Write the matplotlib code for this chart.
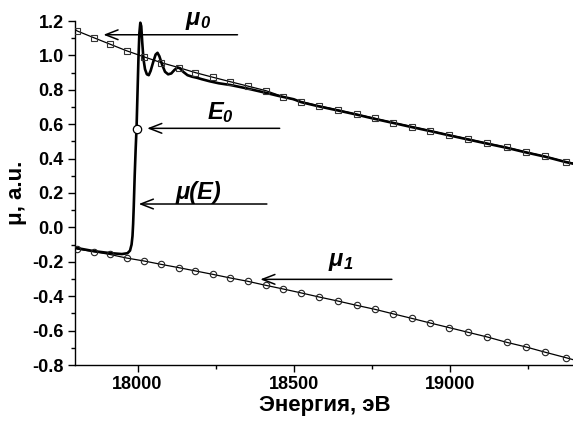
import numpy as np
import matplotlib
matplotlib.use('Agg')
import matplotlib.pyplot as plt
from matplotlib.ticker import MultipleLocator

plt.rcParams['font.family'] = ['Liberation Sans', 'DejaVu Sans']
plt.rcParams['font.weight'] = 'bold'
plt.rcParams['mathtext.fontset'] = 'custom'
plt.rcParams['mathtext.rm'] = 'Liberation Sans:italic:bold'
plt.rcParams['mathtext.it'] = 'Liberation Sans:italic:bold'

# marker positions of the two fitted lines, eV
E_pts = [17807, 17860, 17911, 17965, 18020, 18076, 18132, 18185, 18241, 18297,
         18352, 18411, 18466, 18524, 18582, 18641, 18701, 18759, 18819, 18878,
         18937, 18998, 19058, 19119, 19181, 19243, 19305, 19370]
mu0_pts = [1.142, 1.103, 1.066, 1.027, 0.992, 0.958, 0.929, 0.900, 0.873, 0.847,
           0.822, 0.795, 0.760, 0.731, 0.706, 0.683, 0.658, 0.634, 0.609, 0.586,
           0.562, 0.537, 0.514, 0.489, 0.466, 0.438, 0.413, 0.382]
mu1_pts = [-0.126, -0.141, -0.157, -0.178, -0.195, -0.215, -0.234, -0.253, -0.273, -0.294,
           -0.313, -0.337, -0.358, -0.381, -0.405, -0.428, -0.453, -0.476, -0.503, -0.529,
           -0.556, -0.583, -0.610, -0.637, -0.668, -0.695, -0.726, -0.757]
# line ends at the axis limits
E_ends = [17800, 19400]
mu0_ends = [1.152, 0.372]
mu1_ends = [-0.120, -0.772]

# measured spectrum mu(E)
E_spec = [17800, 17860, 17910, 17950, 17968, 17976, 17981, 17984, 17986, 17988,
          17991, 17994, 17997, 18000, 18003, 18006, 18009, 18012, 18015, 18019,
          18024, 18030, 18036, 18042, 18050, 18058, 18064, 18070, 18078, 18088,
          18098, 18108, 18118, 18128, 18136, 18146, 18160, 18175, 18190, 18205,
          18230, 18260, 18297, 18350, 18400, 18450, 18500, 18524, 18582, 18641,
          18701, 18759, 18819, 18878, 18937, 18998, 19058, 19119, 19181, 19243,
          19305, 19370, 19400]
mu_spec = [-0.118, -0.138, -0.149, -0.155, -0.150, -0.135, -0.100, -0.050, 0.020, 0.120,
           0.300, 0.450, 0.580, 0.780, 0.980, 1.130, 1.190, 1.170, 1.080, 0.980,
           0.920, 0.890, 0.885, 0.910, 0.960, 1.005, 1.015, 0.995, 0.950, 0.905,
           0.890, 0.895, 0.915, 0.930, 0.925, 0.905, 0.885, 0.876, 0.870, 0.862,
           0.850, 0.838, 0.828, 0.808, 0.787, 0.765, 0.745, 0.728, 0.703, 0.680,
           0.656, 0.631, 0.607, 0.583, 0.560, 0.535, 0.511, 0.487, 0.463, 0.436,
           0.411, 0.380, 0.368]

E0 = (17997, 0.575)

fig = plt.figure(figsize=(5.73, 4.21), dpi=100)
ax = fig.add_axes([75 / 573, 56 / 421, 500 / 573, 344 / 421])

ax.plot(E_spec, mu_spec, color='black', lw=1.9, zorder=3, solid_joinstyle='round')
ax.plot([E_ends[0]] + E_pts + [E_ends[1]], [mu0_ends[0]] + mu0_pts + [mu0_ends[1]],
        color='black', lw=0.9, zorder=4)
ax.plot([E_ends[0]] + E_pts + [E_ends[1]], [mu1_ends[0]] + mu1_pts + [mu1_ends[1]],
        color='black', lw=0.9, zorder=4)
ax.plot(E_pts, mu0_pts, ls='none', marker='s', ms=4.3, mfc='none', mec='#333333',
        mew=0.8, zorder=5)
ax.plot(E_pts, mu1_pts, ls='none', marker='o', ms=4.6, mfc='none', mec='#222222',
        mew=0.8, zorder=5)
ax.plot([E0[0]], [E0[1]], ls='none', marker='o', ms=6, mfc='white', mec='black',
        mew=0.9, zorder=6)

arrow = dict(arrowstyle='->,head_length=0.9,head_width=0.35', lw=1.1, color='black',
             shrinkA=0, shrinkB=0)
ax.annotate('', xy=(17891, 1.12), xytext=(18320, 1.12), arrowprops=arrow)
ax.annotate('', xy=(18031, 0.576), xytext=(18455, 0.576), arrowprops=arrow)
ax.annotate('', xy=(18004, 0.136), xytext=(18414, 0.136), arrowprops=arrow)
ax.annotate('', xy=(18393, -0.302), xytext=(18814, -0.302), arrowprops=arrow)

lab = dict(fontsize=17, fontweight='bold', fontstyle='italic', ha='center', va='center')
ax.text(18195, 1.2, r'μ$_0$', clip_on=False, **lab)
ax.text(18265, 0.665, r'E$_0$', **lab)
ax.text(18195, 0.205, 'μ(E)', **lab)
ax.text(18650, -0.20, r'μ$_1$', **lab)

ax.set_xlim(17800, 19400)
ax.set_ylim(-0.8, 1.2)
ax.xaxis.set_major_locator(MultipleLocator(500))
ax.xaxis.set_minor_locator(MultipleLocator(250))
ax.yaxis.set_major_locator(MultipleLocator(0.2))
ax.yaxis.set_minor_locator(MultipleLocator(0.1))
ax.yaxis.set_major_formatter(matplotlib.ticker.FormatStrFormatter('%.1f'))

for s in ['top', 'right']:
    ax.spines[s].set_visible(False)
for s in ['left', 'bottom']:
    ax.spines[s].set_linewidth(1.0)
ax.tick_params(which='major', direction='out', length=5, width=1.0, labelsize=13, pad=3)
ax.tick_params(which='minor', direction='out', length=3, width=1.0)
for t in ax.get_xticklabels() + ax.get_yticklabels():
    t.set_fontweight('bold')

ax.set_xlabel('Энергия, эВ', fontsize=16, fontweight='bold', labelpad=1)
ax.set_ylabel('μ, a.u.', fontsize=16, fontweight='bold', labelpad=4)

fig.savefig('out.png', dpi=100)
